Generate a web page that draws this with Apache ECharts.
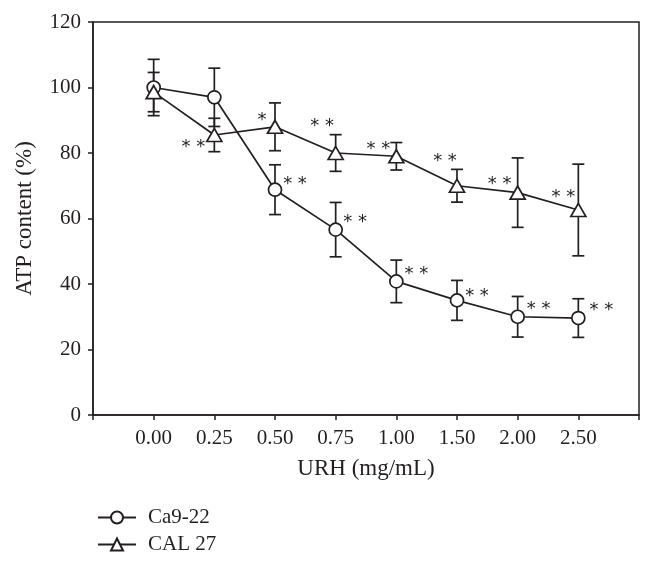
<!DOCTYPE html>
<html>
<head>
<meta charset="utf-8">
<script src="https://cdn.jsdelivr.net/npm/echarts@6/dist/echarts.min.js"></script>
<style>html,body{margin:0;padding:0;background:#fff}#chart{width:654px;height:563px}</style>
</head>
<body>
<div id="chart"></div>
<script>
// ---- data ----
const doses = ['0.00', '0.25', '0.50', '0.75', '1.00', '1.50', '2.00', '2.50'];
const ca9Mean = [100, 97, 68.8, 56.6, 40.8, 35.0, 30.0, 29.6];
const ca9Err = [8.6, 8.9, 7.6, 8.3, 6.5, 6.1, 6.2, 5.9];
const cal27Mean = [98.6, 85.5, 88.0, 80.0, 79.0, 70.0, 67.9, 62.6];
const cal27Err = [6.0, 5.1, 7.3, 5.6, 4.2, 5.0, 10.6, 14.0];
const ca9Sig = ['', '', '**', '**', '**', '**', '**', '**'];
const cal27Sig = ['', '**', '*', '**', '**', '**', '**', '**'];
const yTicks = [0, 20, 40, 60, 80, 100, 120];

// ---- layout of significance marks (pixel offsets from the point) ----
const ca9StarOffset = [[0,0],[0,0],[20,-10],[19.5,-12],[20,-12],[20,-9],[21,-12],[23,-13]];
const cal27StarOffset = [[0,0],[-21,7],[-13,-11],[-13.5,-32],[-18,-12],[-12,-29],[-18,-13],[-15,-18]];

const INK = '#231f20';
const SERIF = '"Liberation Serif", "Times New Roman", serif';

function pts(means) { return means.map((v, i) => [i, v]); }
function errData(means, errs) { return means.map((v, i) => [i, v, errs[i]]); }

function errRender(params, api) {
  const x = api.value(0), m = api.value(1), e = api.value(2);
  const t = api.coord([x, m + e]);
  const b = api.coord([x, m - e]);
  const w = 6;
  const st = { stroke: INK, lineWidth: 1.7 };
  return {
    type: 'group',
    children: [
      { type: 'line', shape: { x1: t[0], y1: t[1], x2: b[0], y2: b[1] }, style: st },
      { type: 'line', shape: { x1: t[0] - w, y1: t[1], x2: t[0] + w, y2: t[1] }, style: st },
      { type: 'line', shape: { x1: b[0] - w, y1: b[1], x2: b[0] + w, y2: b[1] }, style: st }
    ]
  };
}

function starRender(sig, offs) {
  return function (params, api) {
    const i = params.dataIndex;
    const s = sig[i];
    if (!s) return null;
    const p = api.coord([api.value(0), api.value(1)]);
    return {
      type: 'text',
      x: p[0] + offs[i][0],
      y: p[1] + offs[i][1] + 5,
      style: {
        text: s.split('').join(' '),
        font: '18px "DejaVu Sans", sans-serif',
        fill: INK,
        align: 'center',
        verticalAlign: 'middle'
      }
    };
  };
}

const chart = echarts.init(document.getElementById('chart'), null, { renderer: 'canvas' });
chart.setOption({
  animation: false,
  backgroundColor: '#fff',
  grid: {
    left: 93, right: 15, top: 22, bottom: 148,
    show: true, borderColor: INK, borderWidth: 1.5, backgroundColor: 'transparent'
  },
  legend: {
    data: ['Ca9-22', 'CAL 27'],
    orient: 'vertical',
    left: 92, top: 502,
    itemWidth: 38, itemHeight: 15, itemGap: 6,
    textStyle: { fontFamily: SERIF, fontSize: 21, color: INK, padding: [0, 0, 0, 7] }
  },
  xAxis: {
    type: 'value', min: -1, max: 8, interval: 1,
    name: 'URH (mg/mL)', nameLocation: 'middle', nameGap: 42,
    nameTextStyle: { fontFamily: SERIF, fontSize: 23, color: INK },
    axisLine: { onZero: false, lineStyle: { color: INK, width: 1.5 } },
    axisTick: { show: true, length: 5, lineStyle: { color: INK, width: 1.5 } },
    axisLabel: { fontFamily: SERIF, fontSize: 21, color: INK, margin: 13,
      formatter: v => (doses[v] !== undefined ? doses[v] : '') },
    splitLine: { show: false }
  },
  yAxis: {
    type: 'value', min: yTicks[0], max: yTicks[yTicks.length - 1], interval: yTicks[1] - yTicks[0],
    name: 'ATP content (%)', nameLocation: 'middle', nameGap: 57,
    nameTextStyle: { fontFamily: SERIF, fontSize: 23, color: INK },
    axisLine: { show: true, onZero: false, lineStyle: { color: INK, width: 1.5 } },
    axisTick: { show: true, length: 5, lineStyle: { color: INK, width: 1.5 } },
    axisLabel: { fontFamily: SERIF, fontSize: 21, color: INK, margin: 12 },
    splitLine: { show: false }
  },
  series: [
    { type: 'custom', name: 'errCa9', data: errData(ca9Mean, ca9Err), renderItem: errRender, z: 2, silent: true },
    { type: 'custom', name: 'errCal', data: errData(cal27Mean, cal27Err), renderItem: errRender, z: 2, silent: true },
    {
      type: 'line', name: 'Ca9-22', data: pts(ca9Mean), z: 5,
      symbol: 'circle', symbolSize: 13, showAllSymbol: true,
      lineStyle: { color: INK, width: 1.7 },
      itemStyle: { color: '#fff', borderColor: INK, borderWidth: 1.7 }
    },
    {
      type: 'line', name: 'CAL 27', data: pts(cal27Mean), z: 5,
      symbol: 'triangle', symbolSize: [15, 13], showAllSymbol: true,
      lineStyle: { color: INK, width: 1.7 },
      itemStyle: { color: '#fff', borderColor: INK, borderWidth: 1.7 }
    },
    { type: 'custom', name: 'sigCa9', data: pts(ca9Mean), renderItem: starRender(ca9Sig, ca9StarOffset), z: 6, silent: true },
    { type: 'custom', name: 'sigCal', data: pts(cal27Mean), renderItem: starRender(cal27Sig, cal27StarOffset), z: 6, silent: true }
  ]
});
</script>
</body>
</html>
